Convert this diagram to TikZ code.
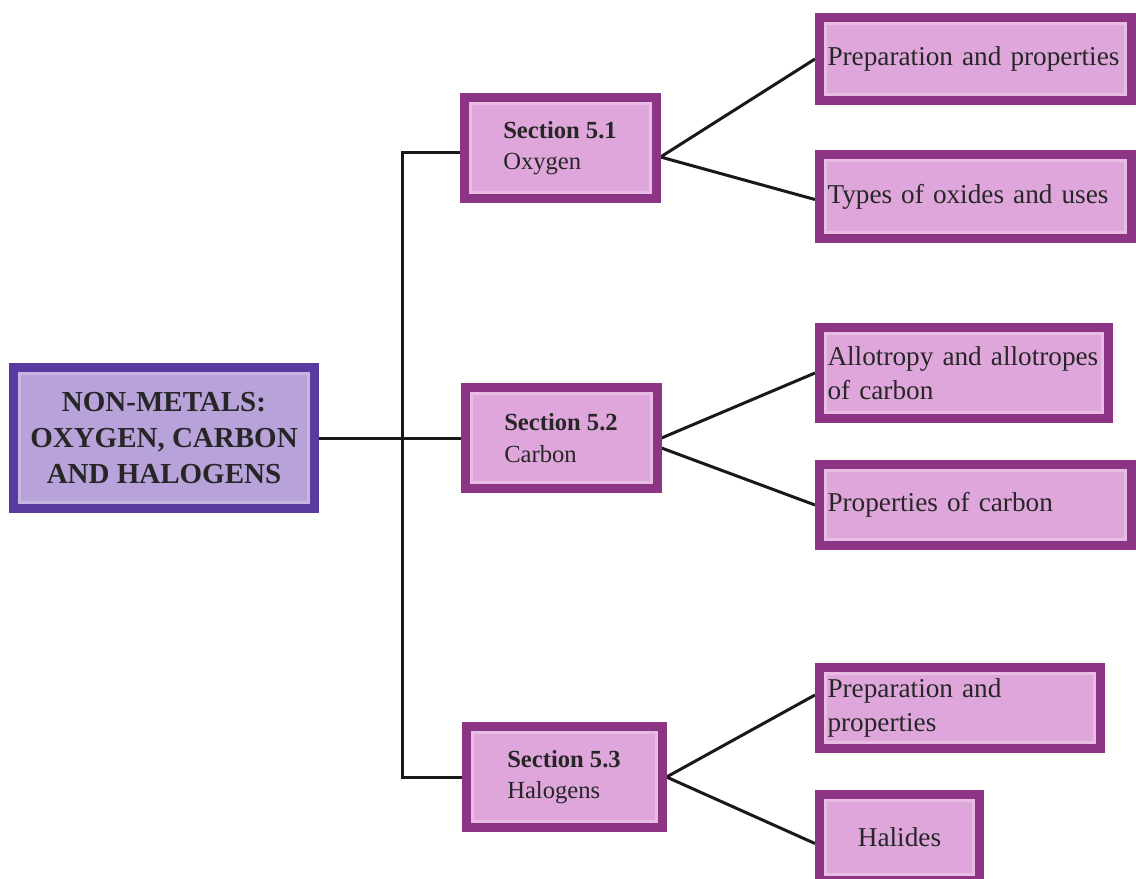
\documentclass[tikz,border=0pt]{standalone}
\usepackage{fontspec}
\setmainfont{Liberation Serif}
\usepackage{tikz}
\usetikzlibrary{backgrounds}
\definecolor{topicedge}{HTML}{5A3A9E}
\definecolor{topicfill}{HTML}{B8A2DA}
\definecolor{topicrim}{HTML}{C6B4E2}
\definecolor{sectedge}{HTML}{8C3584}
\definecolor{sectfill}{HTML}{DFA6DB}
\definecolor{sectrim}{HTML}{E9BCE4}
\definecolor{ink}{HTML}{262626}
\tikzset{
  rim/.style   ={path picture={\draw[#1, line width=0.6mm]
                   ([shift={(1.2mm,1.2mm)}]path picture bounding box.south west) rectangle
                   ([shift={(-1.2mm,-1.2mm)}]path picture bounding box.north east);}},
  topic/.style ={draw=topicedge, fill=topicfill, rim=topicrim, line width=1.8mm, align=center, text=ink,
                 font=\fontsize{16.5}{20.5}\selectfont\bfseries},
  sect/.style  ={draw=sectedge, fill=sectfill, rim=sectrim, line width=1.8mm, align=left, text=ink,
                 font=\fontsize{14}{18}\selectfont, minimum width=38.4mm, minimum height=20.2mm},
  leaf/.style  ={draw=sectedge, fill=sectfill, rim=sectrim, line width=1.8mm, align=left, text=ink,
                 font=\fontsize{15.5}{19}\selectfont, inner xsep=1.6mm},
  link/.style  ={draw=black!90, line width=0.6mm},
}

\begin{document}
\begin{tikzpicture}[x=0.2mm, y=-0.2mm]
  \useasboundingbox (0,0) rectangle (1136,879);
  % topic and sections
  \node[topic, minimum width=60.2mm, minimum height=28.2mm] (main) at (164,438) {NON-METALS:\\OXYGEN, CARBON\\AND HALOGENS};
  \node[sect] (s51) at (560,148) {\textbf{Section 5.1}\\Oxygen};
  \node[sect] (s52) at (561,438) {\textbf{Section 5.2}\\Carbon};
  \node[sect, minimum width=39.2mm] (s53) at (564,777) {\textbf{Section 5.3}\\Halogens};
  % subtopics
  \node[leaf, text width=59.2mm, minimum height=16.6mm] (r11) at (975.5,59) {Preparation and properties};
  \node[leaf, text width=59.2mm, minimum height=16.8mm] (r12) at (975.5,196.5) {Types of oxides and uses};
  \node[leaf, text width=54.6mm, minimum height=18.2mm] (r21) at (964,373) {Allotropy and allotropes\\of carbon};
  \node[leaf, text width=59.2mm, minimum height=16.2mm] (r22) at (975.5,505) {Properties of carbon};
  \node[leaf, text width=53mm, minimum height=16.2mm] (r31) at (960,708) {Preparation and\\properties};
  \node[leaf, align=center, minimum width=32mm, minimum height=17.2mm] (r32) at (899.5,837.5) {Halides};
  \coordinate (bus) at (402,438);
  \begin{scope}[on background layer]
    \draw[link] (main) -- (s52);
    \draw[link] ([yshift=-1mm]s51.west) -| (bus) |- (s53.west);
    \draw[link] (r11.west) -- ([yshift=-1.8mm]s51.east) -- ([yshift=-0.6mm]r12.west);
    \draw[link] (r21.west) -- (s52.east);
    \draw[link] ([yshift=-2mm]s52.east) -- (r22.west);
    \draw[link] ([yshift=2.6mm]r31.west) -- (s53.east) -- ([yshift=-1.2mm]r32.west);
  \end{scope}
\end{tikzpicture}
\end{document}
